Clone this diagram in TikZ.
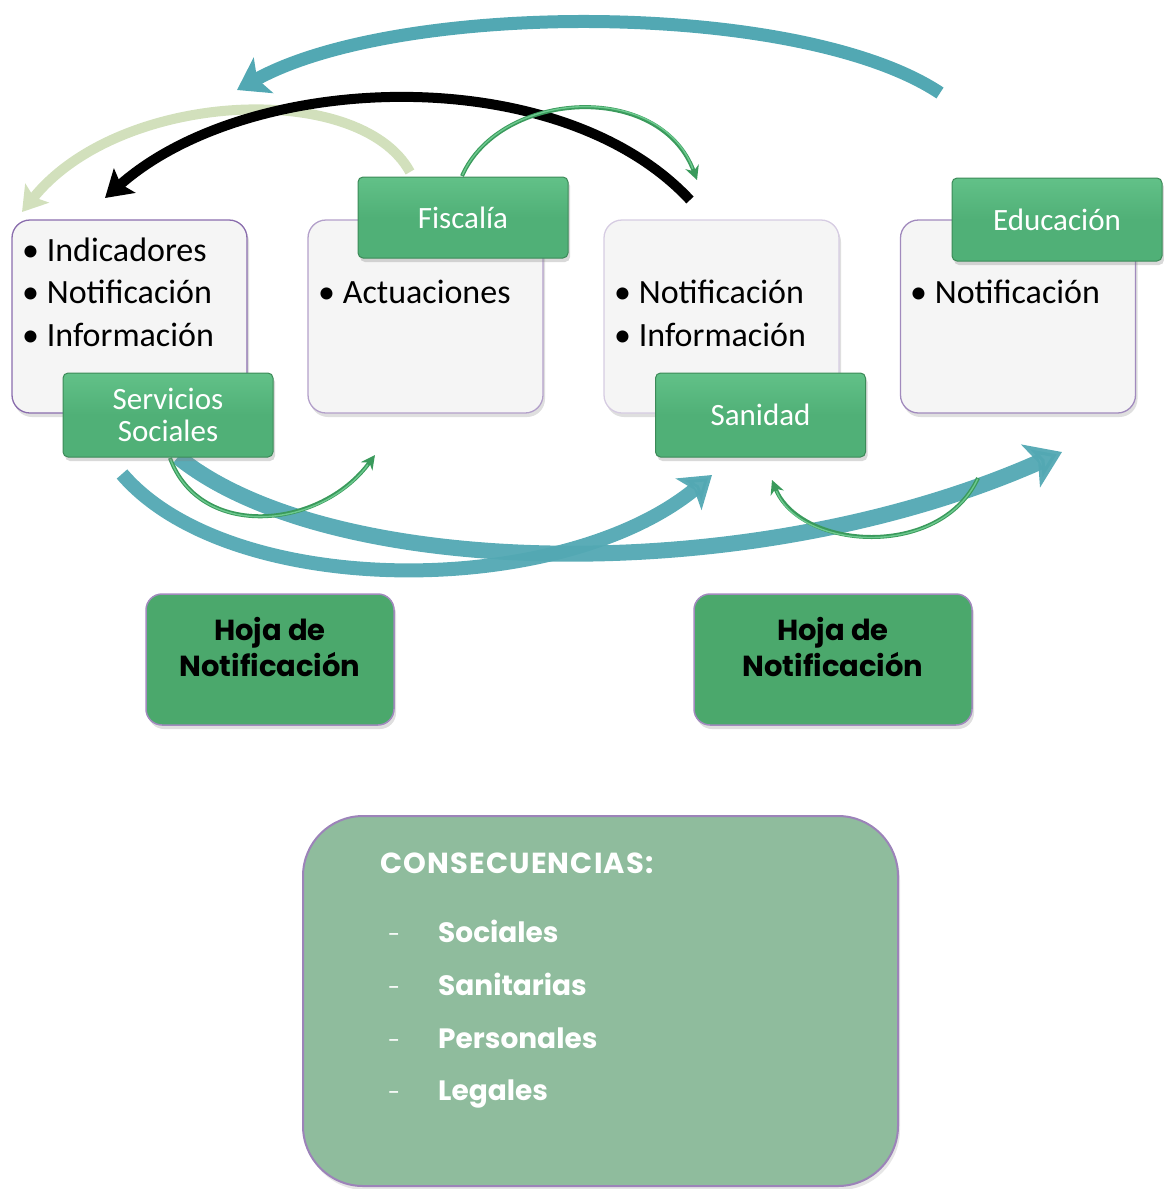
\documentclass[tikz,border=0pt]{standalone}
\usepackage{fontspec}
\setmainfont{Carlito}
\newfontfamily\geo{Poppins}
\newfontfamily\geowide{Poppins}[LetterSpace=4]
\usetikzlibrary{arrows.meta,shadows}
\definecolor{tealA}{HTML}{52A8B3}
\definecolor{paleG}{HTML}{D2E0BC}
\definecolor{labG}{HTML}{50B077}
\definecolor{labT}{HTML}{62C188}
\definecolor{labD}{HTML}{3C8A58}
\definecolor{hojaG}{HTML}{4BA86C}
\definecolor{consG}{HTML}{8FBC9D}
\definecolor{purpA}{HTML}{8A6DAD}
\definecolor{thinG}{HTML}{3A9A5C}
\definecolor{thinL}{HTML}{6CC98E}
\definecolor{boxF}{HTML}{F5F5F5}
\tikzset{
  infobox/.style={draw=#1, line width=1.3pt, fill=boxF, rounded corners=18pt,
    minimum width=235pt, minimum height=193pt, inner sep=0pt,
    drop shadow={shadow xshift=2pt, shadow yshift=-4pt, opacity=0.25}},
  labelbox/.style={draw=labD, line width=1pt, top color=labT, bottom color=labG,
    middle color=labG, rounded corners=5pt,
    minimum width=210pt, text=white, align=center, inner sep=0pt,
    font=\fontsize{31}{32}\selectfont,
    drop shadow={shadow xshift=2pt, shadow yshift=-4pt, opacity=0.3}},
  hojabox/.style={draw=purpA!80, line width=1.5pt, fill=hojaG, rounded corners=16pt,
    minimum height=131pt, inner sep=0pt,
    drop shadow={shadow xshift=2pt, shadow yshift=-4pt, opacity=0.25}},
  hojatext/.style={anchor=base, inner sep=0pt, font=\geo\bfseries\fontsize{29}{36}\selectfont},
  bullettext/.style={anchor=base west, inner sep=0pt, font=\fontsize{34}{40}\selectfont},
  conshead/.style={anchor=base west, inner sep=0pt, text=white, font=\geowide\bfseries\fontsize{29}{30}\selectfont},
  constext/.style={anchor=base west, inner sep=0pt, text=white, font=\geo\bfseries\fontsize{28}{30}\selectfont},
  dashtext/.style={anchor=base west, inner sep=0pt, text=white, font=\geo\fontsize{22}{30}\selectfont},
  bigarrow/.style={line width=#1, -{Stealth[length=30pt,width=40pt,inset=7pt]}},
  thinarrow/.style={draw=thinG, line width=4pt, -{Stealth[length=14pt,width=14pt]}},
  thinhi/.style={draw=thinL, line width=1.4pt, shorten >=12pt, shorten <=1pt},
}
\begin{document}
\begin{tikzpicture}[x=1pt,y=-1pt]
\useasboundingbox (0,0) rectangle (1164,1189);

% ---------- arrow end points ----------
\coordinate (t1s) at (940,93);   \coordinate (t1e) at (237,90);
\coordinate (pgs) at (410,172);  \coordinate (pge) at (22,212);
\coordinate (bks) at (690,200);  \coordinate (bke) at (105,198);
\coordinate (tgs) at (462,176);  \coordinate (tge) at (697,180);
\coordinate (bas) at (122,474);  \coordinate (bae) at (712,475);
\coordinate (bbs) at (178,457);  \coordinate (bbe) at (1062,452);
\coordinate (cgs) at (170,458);  \coordinate (cge) at (375,455);
\coordinate (dgs) at (978,478);  \coordinate (dge) at (772,480);

% ---------- top arrows ----------
\draw[bigarrow=13pt, draw=tealA] (t1s) .. controls (800,0) and (400,0) .. (t1e);
\draw[line width=10pt, draw=paleG, -{Stealth[length=24pt,width=30pt,inset=5pt]}] (pgs) .. controls (360,80) and (120,90) .. (pge);
\draw[line width=10pt, draw=black, -{Stealth[length=26pt,width=32pt,inset=5pt]}] (bks) .. controls (560,60) and (250,70) .. (bke);
\draw[thinarrow] (tgs) .. controls (500,90) and (660,80) .. (tge);
\draw[thinhi] (tgs) .. controls (500,90) and (660,80) .. (tge);

% ---------- bottom arrows ----------
\draw[bigarrow=14pt, draw=tealA, opacity=0.95] (bas) .. controls (230,600) and (560,600) .. (bae);
\draw[line width=16pt, draw=tealA, opacity=0.95, -{Stealth[length=34pt,width=46pt,inset=8pt]}] (bbs) .. controls (330,580) and (750,590) .. (bbe);
\draw[thinarrow] (cgs) .. controls (200,540) and (320,530) .. (cge);
\draw[thinhi] (cgs) .. controls (200,540) and (320,530) .. (cge);
\draw[thinarrow] (dgs) .. controls (940,560) and (800,550) .. (dge);
\draw[thinhi] (dgs) .. controls (940,560) and (800,550) .. (dge);

% ---------- info boxes ----------
\node[infobox=purpA] (b1) at (129.5,316.5) {};
\node[infobox=purpA!65] (b2) at (425.5,316.5) {};
\node[infobox=purpA!35] (b3) at (721.5,316.5) {};
\node[infobox=purpA!80] (b4) at (1018,316.5) {};

\node[bullettext] (b1a) at (22,261) {• Indicadores};
\node[bullettext] (b1b) at (22,303) {• Notificación};
\node[bullettext] (b1c) at (22,346) {• Información};
\node[bullettext] (b2a) at (318,303) {• Actuaciones};
\node[bullettext] (b3a) at (614,303) {• Notificación};
\node[bullettext] (b3b) at (614,346) {• Información};
\node[bullettext] (b4a) at (910,303) {• Notificación};

% ---------- labels ----------
\node[labelbox, minimum height=84pt] (ss) at (168,415) {Servicios\\Sociales};
\node[labelbox, minimum height=81pt] (fi) at (463,217.5) {Fiscalía};
\node[labelbox, minimum height=84pt] (sa) at (760.5,415) {Sanidad};
\node[labelbox, minimum height=83pt] (ed) at (1057,219.5) {Educación};

% ---------- hoja de notificacion ----------
\node[hojabox, minimum width=248pt] (h1) at (270,659.5) {};
\node[hojabox, minimum width=278pt] (h2) at (833,659.5) {};
\node[hojatext] (h1a) at (270,640) {Hoja de};
\node[hojatext] (h1b) at (270,676) {Notificación};
\node[hojatext] (h2a) at (833,640) {Hoja de};
\node[hojatext] (h2b) at (833,676) {Notificación};

% ---------- consecuencias ----------
\node[draw=purpA!85, line width=2pt, fill=consG, rounded corners=60pt,
      minimum width=595pt, minimum height=370pt, inner sep=0pt,
      drop shadow={shadow xshift=2pt, shadow yshift=-4pt, opacity=0.2}] (cons) at (600.5,1001) {};
\node[conshead] (ct) at (380,873) {CONSECUENCIAS:};
\node[dashtext] (d1) at (388,942) {-};
\node[dashtext] (d2) at (388,995) {-};
\node[dashtext] (d3) at (388,1048) {-};
\node[dashtext] (d4) at (388,1100) {-};
\node[constext] (c1) at (438,942) {Sociales};
\node[constext] (c2) at (438,995) {Sanitarias};
\node[constext] (c3) at (438,1048) {Personales};
\node[constext] (c4) at (438,1100) {Legales};
\end{tikzpicture}
\end{document}
